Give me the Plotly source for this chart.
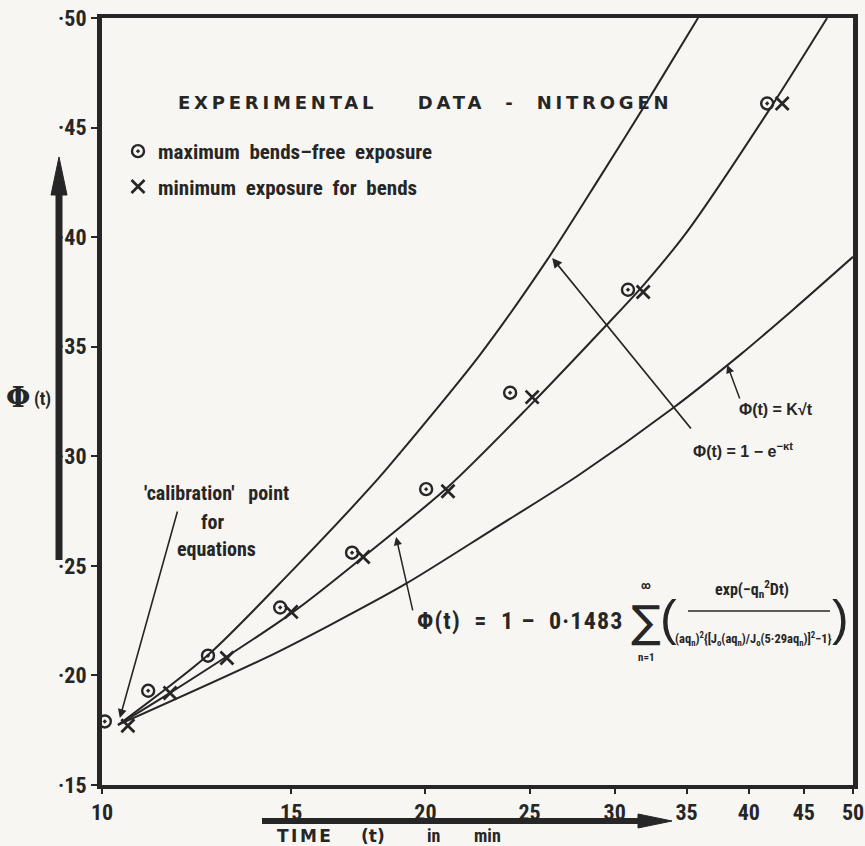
import numpy as np
import plotly.graph_objects as go

# ---------------- data ----------------
max_free_t = [10.06, 11.04, 12.55, 14.65, 17.09, 20.03, 23.98, 30.87, 41.6]
max_free_phi = [0.179, 0.193, 0.209, 0.231, 0.256, 0.285, 0.329, 0.376, 0.461]

min_bends_t = [10.57, 11.57, 13.07, 15.0, 17.5, 20.99, 25.14, 31.89, 42.96]
min_bends_phi = [0.177, 0.192, 0.208, 0.229, 0.254, 0.284, 0.327, 0.375, 0.461]

exp_curve_t = [10.35, 12.55, 14.96, 18.03, 18.94, 22.48, 25.96, 29.08, 32.37, 35.88]
exp_curve_phi = [0.1774, 0.2093, 0.2468, 0.2892, 0.3015, 0.3463, 0.3896, 0.4275, 0.4640, 0.5001]

bessel_curve_t = [10.35, 11.57, 15.07, 17.50, 20.99, 25.0, 29.5, 31.9, 35.1, 41.9, 47.3]
bessel_curve_phi = [0.1774, 0.192, 0.229, 0.254, 0.286, 0.323, 0.360, 0.378, 0.403, 0.459, 0.500]

sqrt_curve_t = [10.35, 14.2, 16.3, 19.2, 23.0, 27.7, 34.0, 39.3, 44.0, 50]
sqrt_curve_phi = [0.1774, 0.208, 0.223, 0.242, 0.266, 0.291, 0.322, 0.3465, 0.367, 0.391]

x_tick_vals = [10, 15, 20, 25, 30, 35, 40, 45, 50]
x_tick_text = ["10", "15", "20", "25", "30", "35", "40", "45", "50"]
y_tick_vals = [0.15, 0.20, 0.25, 0.30, 0.35, 0.40, 0.45, 0.50]
y_tick_text = ["·15", "·20", "·25", "·30", "·35", "·40", "·45", "·50"]

# arrow tips (data) for the labels
calib_tip = (10.39, 0.1806)
bessel_tip = (18.78, 0.2632)
exp_tip = (26.24, 0.3905)
sqrt_tip = (38.19, 0.3417)

# ---------------- layout helpers ----------------
W, H = 865, 846
L, R, T, B = 102, 853, 18, 785
INK = "#262626"
PAPER = "#f7f6f2"
NARROW = "Liberation Sans Narrow, Roboto Condensed, DejaVu Sans Condensed, Arial Narrow, sans-serif"
WIDE = "DejaVu Sans, Verdana, sans-serif"
SANS = "Liberation Sans, Arial, sans-serif"


def px(x):
    return (x - L) / (R - L)


def py(y):
    return (B - y) / (B - T)


fig = go.Figure()

line_style = dict(color=INK, width=2, shape="spline", smoothing=0.8)
fig.add_trace(go.Scatter(x=exp_curve_t, y=exp_curve_phi, mode="lines", line=line_style,
                         showlegend=False, hoverinfo="skip"))
fig.add_trace(go.Scatter(x=bessel_curve_t, y=bessel_curve_phi, mode="lines", line=line_style,
                         showlegend=False, hoverinfo="skip"))
fig.add_trace(go.Scatter(x=sqrt_curve_t, y=sqrt_curve_phi, mode="lines", line=line_style,
                         showlegend=False, hoverinfo="skip"))

fig.add_trace(go.Scatter(
    x=max_free_t, y=max_free_phi, mode="markers", name="maximum  bends–free  exposure",
    legendgroup="a",
    marker=dict(symbol="circle-open-dot", size=12, color=INK, line=dict(width=2.4, color=INK)),
    cliponaxis=False))
fig.add_trace(go.Scatter(
    x=min_bends_t, y=min_bends_phi, mode="markers", name="minimum  exposure  for  bends",
    legendgroup="b",
    marker=dict(symbol="x-thin-open", size=13, color=INK, line=dict(width=2.8, color=INK)),
    cliponaxis=False))

annotations = []


def text(x, y, s, size=17, family=NARROW, anchor="center", weight="normal", color=INK):
    annotations.append(dict(xref="paper", yref="paper", x=px(x), y=py(y), text=s,
                            showarrow=False, xanchor=anchor, yanchor="middle",
                            font=dict(size=size, family=family, color=color, weight=weight)))


def arrow(tip, ax, ay, head=2, width=1.6):
    annotations.append(dict(xref="x", yref="y", x=np.log10(tip[0]), y=tip[1], ax=ax, ay=ay,
                            text="", showarrow=True, arrowhead=head, arrowsize=1.1,
                            arrowwidth=width, arrowcolor=INK))


# title
text(425, 102, "<span style='letter-spacing:3.8px'>EXPERIMENTAL    DATA  -  NITROGEN</span>",
     size=18, family=WIDE, weight="bold")

# calibration label
text(216, 493, "'calibration'   point", size=20, weight="bold")
text(213, 522, "for", size=20, weight="bold")
text(216, 549, "equations", size=20, weight="bold")
arrow(calib_tip, 58, -208, head=2, width=1.6)

# sqrt / exp labels
text(776, 410, "<b>Φ(t) = K√t</b>", size=16, family=SANS)
text(743, 450, "<b>Φ(t) = 1 − e<sup>−κt</sup></b>", size=16, family=SANS)
arrow(sqrt_tip, 13, 35, head=2, width=1.5)
arrow(exp_tip, 140, 172, head=2, width=1.8)

# bessel formula
text(626, 621, "<span style='letter-spacing:1.2px'>Φ(t)  =  1 –  0·1483</span>",
     size=24, weight="bold", anchor="right")
text(646, 621, "∑", size=44, family="DejaVu Sans, sans-serif")
text(646, 585, "∞", size=11, weight="bold")
text(646, 657, "n=1", size=11, weight="bold")
text(668, 618, "(", size=50, family="Liberation Sans, sans-serif")
text(840, 618, ")", size=50, family="Liberation Sans, sans-serif")
text(752, 589, "exp(−q<sub>n</sub><sup>2</sup>Dt)", size=16, weight="bold")
text(753, 639, "(aq<sub>n</sub>)<sup>2</sup>{[J<sub>o</sub>(aq<sub>n</sub>)/J<sub>o</sub>(5·29aq<sub>n</sub>)]<sup>2</sup>−1}",
     size=12.5, weight="bold")
arrow(bessel_tip, 17, 75, head=2, width=1.5)

# y-axis title
text(18, 397, "Φ", size=28, family="DejaVu Serif, serif", weight="bold")
text(42, 399, "(t)", size=18, weight="bold")

# x-axis title
text(305, 836, "<span style='letter-spacing:2.5px'>TIME</span>", size=17, family=WIDE, weight="bold")
text(373, 836, "(t)", size=17, family=WIDE, weight="bold")
text(433, 835, "in", size=18, weight="bold")
text(487, 835, "min", size=18, weight="bold")

shapes = [
    # fraction bar
    dict(type="line", xref="paper", yref="paper", x0=px(688), x1=px(830), y0=py(611), y1=py(611),
         line=dict(color=INK, width=1.6)),
    # y arrow shaft + head
    dict(type="line", xref="paper", yref="paper", x0=px(59), x1=px(59), y0=py(560), y1=py(190),
         line=dict(color=INK, width=7)),
    dict(type="path", xref="paper", yref="paper",
         path=f"M {px(51)} {py(195)} L {px(59)} {py(157)} L {px(67)} {py(195)} Z",
         fillcolor=INK, line=dict(color=INK, width=1)),
    # x arrow shaft + head
    dict(type="line", xref="paper", yref="paper", x0=px(262), x1=px(645), y0=py(821), y1=py(821),
         line=dict(color=INK, width=6)),
    dict(type="path", xref="paper", yref="paper",
         path=f"M {px(638)} {py(814)} L {px(672)} {py(821)} L {px(638)} {py(828)} Z",
         fillcolor=INK, line=dict(color=INK, width=1)),
]

fig.update_layout(
    width=W, height=H,
    margin=dict(l=L, r=W - R, t=T, b=H - B, pad=0, autoexpand=False),
    paper_bgcolor=PAPER, plot_bgcolor=PAPER,
    font=dict(family=NARROW, color=INK),
    annotations=annotations, shapes=shapes,
    legend=dict(x=px(118), y=py(131), xanchor="left", yanchor="top",
                bgcolor="rgba(0,0,0,0)", borderwidth=0,
                font=dict(size=21, family=NARROW, color=INK, weight="bold"),
                traceorder="grouped", tracegroupgap=5, itemwidth=30),
    xaxis=dict(type="log", range=[1, np.log10(50)], tickvals=x_tick_vals, ticktext=x_tick_text,
               ticks="outside", ticklen=5, tickwidth=2, tickcolor=INK, automargin=False,
               tickfont=dict(size=22, family=NARROW, color=INK, weight="bold"),
               showline=True, linewidth=4, linecolor=INK, mirror=True,
               showgrid=False, zeroline=False),
    yaxis=dict(range=[0.15, 0.50], tickvals=y_tick_vals, ticktext=y_tick_text,
               ticks="outside", ticklen=6, tickwidth=2, tickcolor=INK, automargin=False,
               tickfont=dict(size=22, family=NARROW, color=INK, weight="bold"),
               showline=True, linewidth=5, linecolor=INK, mirror=True,
               showgrid=False, zeroline=False),
)

fig.write_html("out.html", post_script="document.body.style.margin='0';",
               config={"displayModeBar": False})
